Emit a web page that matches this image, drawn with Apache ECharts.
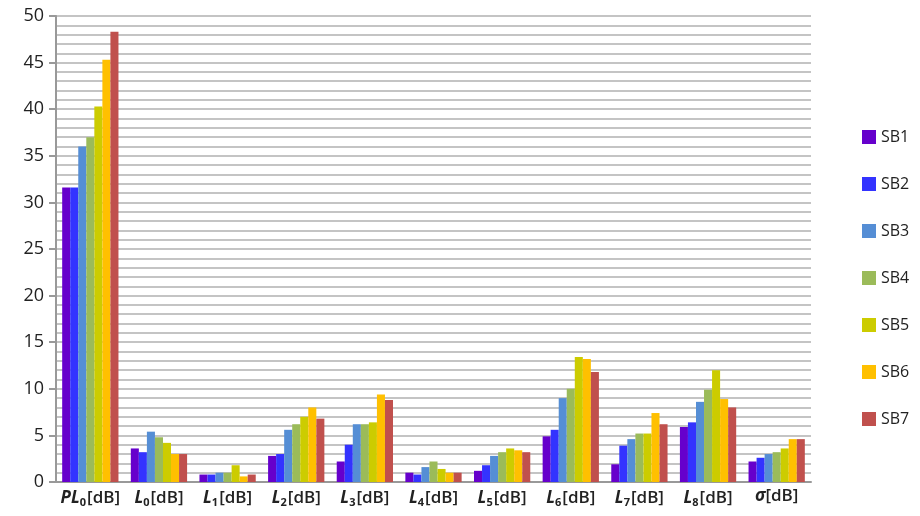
<!DOCTYPE html>
<html><head><meta charset="utf-8">
<script src="https://cdn.jsdelivr.net/npm/echarts@6/dist/echarts.min.js"></script>
<style>html,body{margin:0;padding:0;background:#fff}#c{width:920px;height:516px}</style>
</head><body><div id="c"></div>
<script>
const categories = ['PL0[dB]','L0[dB]','L1[dB]','L2[dB]','L3[dB]','L4[dB]','L5[dB]','L6[dB]','L7[dB]','L8[dB]','σ[dB]'];
const seriesNames = ['SB1','SB2','SB3','SB4','SB5','SB6','SB7'];
const colors = ['#6600CC','#3333FF','#558ED5','#9BBB59','#CCCC00','#FFC000','#C0504D'];
const SB1 = [31.6, 3.6, 0.8, 2.8, 2.2, 1.0, 1.2, 4.9, 1.9, 5.9, 2.2];
const SB2 = [31.6, 3.2, 0.8, 3.0, 4.0, 0.8, 1.8, 5.6, 3.9, 6.4, 2.6];
const SB3 = [36.0, 5.4, 1.0, 5.6, 6.2, 1.6, 2.8, 9.0, 4.6, 8.6, 3.0];
const SB4 = [37.0, 4.8, 1.0, 6.2, 6.2, 2.2, 3.2, 10.0, 5.2, 9.9, 3.2];
const SB5 = [40.3, 4.2, 1.8, 7.0, 6.4, 1.4, 3.6, 13.4, 5.2, 12.0, 3.6];
const SB6 = [45.3, 3.0, 0.6, 8.0, 9.4, 1.0, 3.4, 13.2, 7.4, 8.9, 4.6];
const SB7 = [48.3, 3.0, 0.8, 6.8, 8.8, 1.0, 3.2, 11.8, 6.2, 8.0, 4.6];
const seriesData = [SB1, SB2, SB3, SB4, SB5, SB6, SB7];

const FONT = 'Open Sans';
function fmtCat(v){
  if (v.indexOf('σ') === 0) return '{i|σ}{n|[dB]}';
  const m = v.match(/^([A-Z]+)(\d)(\[dB\])$/);
  if (!m) return v;
  return '{i|' + m[1] + '}{s|' + m[2] + '}{n|' + m[3] + '}';
}
const chart = echarts.init(document.getElementById('c'), null, {renderer:'canvas'});
chart.setOption({
  animation: false,
  textStyle: {fontFamily: FONT},
  color: colors,
  grid: {left: 56, right: 109, top: 16, bottom: 34, containLabel: false},
  legend: {
    orient: 'vertical', left: 857, top: 124,
    itemWidth: 14, itemHeight: 14, itemGap: 31,
    icon: 'rect',
    textStyle: {fontSize: 16, color: '#222', fontFamily: FONT},
    data: seriesNames
  },
  xAxis: {
    type: 'category', data: categories,
    axisLine: {lineStyle: {color: '#999', width: 2}},
    axisTick: {show: false},
    axisLabel: {
      interval: 0, hideOverlap: false,
      margin: 6, color: '#222', formatter: fmtCat,
      rich: {
        i: {fontSize: 17, fontStyle: 'italic', fontWeight: 'bold', color: '#222', fontFamily: FONT},
        s: {fontSize: 11, fontWeight: 'bold', color: '#222', verticalAlign: 'bottom', padding: [9,1,0,0], fontFamily: FONT},
        n: {fontSize: 17, fontWeight: 600, color: '#222', fontFamily: FONT}
      }
    }
  },
  yAxis: {
    type: 'value', min: 0, max: 50, interval: 5,
    axisLine: {show: true, lineStyle: {color: '#999', width: 2}},
    axisTick: {show: true, length: 7, lineStyle: {color: '#999', width: 2}},
    axisLabel: {fontSize: 18, color: '#222', margin: 12, fontFamily: FONT},
    splitLine: {show: true, lineStyle: {color: '#c4c4c4', width: 2}},
    minorTick: {show: true, splitNumber: 5, length: 0},
    minorSplitLine: {show: true, lineStyle: {color: '#c4c4c4', width: 2}}
  },
  series: seriesNames.map((n, i) => ({
    name: n, type: 'bar', data: seriesData[i],
    barGap: '0%', barCategoryGap: '18%'
  }))
});
</script></body></html>
